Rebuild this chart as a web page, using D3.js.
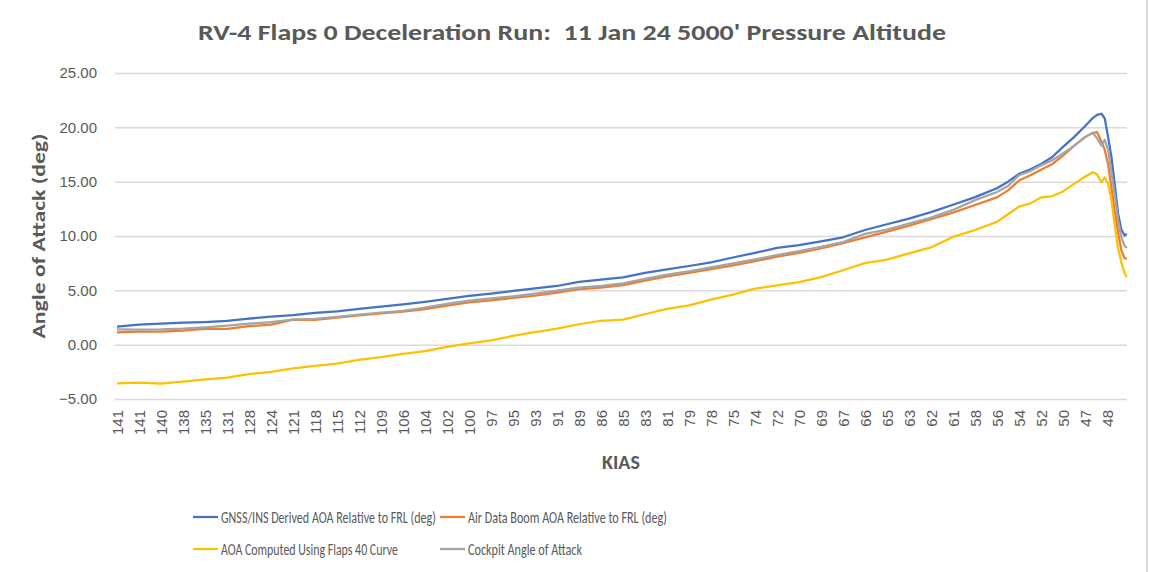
<!DOCTYPE html>
<html>
<head>
<meta charset="utf-8">
<script src="https://cdn.jsdelivr.net/npm/d3@7"></script>
<style>
  body { margin: 0; background: #fff; }
  svg { display: block; font-family: Carlito, Calibri, Lato, "Liberation Sans", sans-serif; }
</style>
</head>
<body>
<svg id="chart" width="1150" height="572"></svg>
<script>
// RV-4 deceleration run — AOA vs. KIAS, four series.

// Category labels on the x axis (one every label step)
const KIAS = ["141", "141", "140", "138", "135", "131", "128", "124", "121", "118", "115", "112",
  "109", "106", "104", "102", "100", "97", "95", "93", "91", "89", "86", "85", "83", "81", "79",
  "78", "75", "74", "72", "70", "69", "67", "66", "65", "63", "62", "61", "58", "56", "54", "52",
  "50", "47", "48"];

// Sample positions, in label steps (label i sits at position i); finer near the stall
const POS = [0, 1, 2, 3, 4, 5, 6, 7, 8, 9, 10, 11, 12, 13, 14, 15, 16, 17, 18, 19, 20,
  21, 22, 23, 24, 25, 26, 27, 28, 29, 30, 31, 32, 33, 34, 35, 36, 37, 38, 39, 40,
  40.5, 41, 41.5, 42, 42.5, 43, 43.5, 44, 44.35, 44.55, 44.75, 44.9, 45.05, 45.2, 45.35,
  45.5, 45.65, 45.8, 45.9];

const GNSS = [1.67, 1.85, 1.94, 2.02, 2.08, 2.18, 2.40, 2.57, 2.72, 2.92, 3.07, 3.30, 3.50, 3.71,
  3.94, 4.21, 4.48, 4.70, 4.94, 5.18, 5.40, 5.78, 5.98, 6.20, 6.60, 6.92, 7.24, 7.58, 8.02, 8.45,
  8.90, 9.16, 9.50, 9.88, 10.55, 11.08, 11.60, 12.20, 12.88, 13.58, 14.40,
  15.0, 15.72, 16.11, 16.63, 17.25, 18.2, 19.1, 20.1, 20.85, 21.15, 21.25, 20.8, 19.1, 17.3,
  14.8, 12.1, 10.6, 10.05, 10.2];

const BOOM = [1.13, 1.20, 1.21, 1.30, 1.46, 1.45, 1.70, 1.85, 2.30, 2.28, 2.48, 2.70, 2.88, 3.05,
  3.27, 3.60, 3.90, 4.08, 4.30, 4.52, 4.78, 5.10, 5.25, 5.48, 5.90, 6.28, 6.60, 6.95, 7.30, 7.68,
  8.10, 8.45, 8.85, 9.35, 9.87, 10.40, 10.95, 11.55, 12.15, 12.85, 13.55,
  14.2, 15.1, 15.56, 16.1, 16.6, 17.4, 18.3, 19.1, 19.5, 19.55, 18.7, 17.9, 16.6, 14.5,
  12.3, 10.4, 8.7, 7.95, 7.9];

const FLAPS40 = [-3.57, -3.50, -3.58, -3.40, -3.20, -3.04, -2.72, -2.50, -2.18, -1.95, -1.74,
  -1.40, -1.15, -0.85, -0.60, -0.20, 0.12, 0.40, 0.80, 1.15, 1.47, 1.88, 2.20, 2.30, 2.80, 3.30,
  3.62, 4.15, 4.60, 5.15, 5.45, 5.75, 6.22, 6.85, 7.50, 7.83, 8.40, 8.95, 9.92, 10.55, 11.30,
  12.0, 12.7, 12.98, 13.55, 13.65, 14.1, 14.8, 15.45, 15.87, 15.65, 14.95, 15.4, 14.8, 13.3,
  11.0, 8.9, 7.6, 6.6, 6.2];

const COCKPIT = [1.41, 1.39, 1.40, 1.47, 1.60, 1.75, 1.93, 2.08, 2.30, 2.38, 2.55, 2.76, 2.96,
  3.12, 3.42, 3.75, 4.05, 4.25, 4.45, 4.70, 4.97, 5.25, 5.40, 5.65, 6.05, 6.45, 6.75, 7.12, 7.48,
  7.84, 8.25, 8.60, 9.00, 9.45, 10.2, 10.6, 11.15, 11.7, 12.4, 13.3, 14.05,
  14.6, 15.6, 15.96, 16.5, 16.95, 17.6, 18.3, 19.1, 19.49, 19.0, 18.3, 18.85, 17.9, 15.9,
  13.8, 11.5, 9.9, 9.1, 8.9];

const Y_TICKS = [-5, 0, 5, 10, 15, 20, 25];

// Excel draws in series order, so gray ends up on top
const SERIES = [
  { name: "GNSS/INS Derived AOA Relative to FRL (deg)", values: GNSS, color: "#4472c4" },
  { name: "Air Data Boom AOA Relative to FRL (deg)", values: BOOM, color: "#ed7d31" },
  { name: "AOA Computed Using Flaps 40 Curve", values: FLAPS40, color: "#ffc000" },
  { name: "Cockpit Angle of Attack", values: COCKPIT, color: "#a5a5a5" },
];

const svg = d3.select("#chart");
const TEXT = "#595959";
const plot = { left: 115, right: 1127, top: 73, bottom: 399 };

const x = d3.scaleLinear().domain([0, KIAS.length - 1]).range([117, 117 + 22 * (KIAS.length - 1)]);
const y = d3.scaleLinear().domain([-5, 25]).range([plot.bottom, plot.top]);

// Squeeze a text horizontally to a target width (the original uses narrow Calibri)
function fitWidth(sel, w) {
  sel.each(function () {
    const len = this.getComputedTextLength();
    const target = typeof w === "function" ? w.apply(this, arguments) : w;
    if (len > 0) d3.select(this).attr("transform", `scale(${target / len},1)`);
  });
}

// thin frame line on the right edge, as in the exported picture
svg.append("line").attr("x1", 1147).attr("x2", 1147).attr("y1", 0).attr("y2", 572)
  .attr("stroke", "#d9d9d9").attr("stroke-width", 2);

// title (keeps the double space after the colon)
svg.append("text").attr("x", 572).attr("y", 40).attr("text-anchor", "middle")
  .attr("textLength", 748).attr("lengthAdjust", "spacingAndGlyphs")
  .style("white-space", "pre")
  .style("font-size", "22px").style("font-weight", "bold").style("fill", TEXT)
  .text("RV-4 Flaps 0 Deceleration Run:  11 Jan 24 5000' Pressure Altitude");

// horizontal gridlines + y labels
const yAxis = svg.append("g").attr("transform", `translate(${plot.left},0)`)
  .call(d3.axisLeft(y).tickValues(Y_TICKS).tickSize(-(plot.right - plot.left))
    .tickPadding(18).tickFormat(d3.format(".2f")));
yAxis.select(".domain").remove();
yAxis.selectAll("line").attr("stroke", "#d9d9d9").attr("stroke-width", 1.5);
yAxis.selectAll("text").style("font-size", "15px").style("fill", TEXT)
  .style("font-family", "inherit");

svg.append("text").attr("transform", "rotate(-90)")
  .attr("x", -236).attr("y", 45).attr("text-anchor", "middle")
  .attr("textLength", 205).attr("lengthAdjust", "spacingAndGlyphs")
  .style("font-size", "19px").style("font-weight", "bold").style("fill", TEXT)
  .text("Angle of Attack (deg)");

// category labels, rotated
const xAxis = svg.append("g").attr("transform", `translate(0,${plot.bottom})`)
  .call(d3.axisBottom(x).tickValues(d3.range(KIAS.length)).tickSize(0)
    .tickFormat((i) => KIAS[i]));
xAxis.select(".domain").remove();
xAxis.selectAll("text")
  .attr("transform", "rotate(-90)")
  .attr("x", -11).attr("y", 0).attr("dy", "0.35em")
  .attr("text-anchor", "end")
  .style("font-size", "15px").style("fill", TEXT).style("font-family", "inherit");

svg.append("text").attr("x", (plot.left + plot.right) / 2).attr("y", 469)
  .attr("text-anchor", "middle")
  .style("font-size", "20px").style("font-weight", "bold").style("fill", TEXT)
  .text("KIAS");

// series lines
const line = d3.line().x((d, i) => x(POS[i])).y((d) => y(d));
svg.append("g").selectAll("path").data(SERIES).join("path")
  .attr("fill", "none")
  .attr("stroke", (s) => s.color)
  .attr("stroke-width", 2.25)
  .attr("stroke-linejoin", "round")
  .attr("d", (s) => line(s.values));

// legend: two rows of two
const LEGEND_POS = [
  { lx: 193, ty: 517, w: 215 },
  { lx: 440, ty: 517, w: 199 },
  { lx: 193, ty: 549, w: 177 },
  { lx: 440, ty: 549, w: 114 },
];
const legend = svg.append("g").selectAll("g").data(SERIES).join("g")
  .attr("transform", (s, i) => `translate(${LEGEND_POS[i].lx},${LEGEND_POS[i].ty})`);
legend.append("line").attr("x1", 0).attr("x2", 25).attr("y1", 0).attr("y2", 0)
  .attr("stroke", (s) => s.color).attr("stroke-width", 2.25);
legend.append("g").attr("transform", "translate(28,0)")
  .append("text").attr("x", 0).attr("y", 0).attr("dy", "0.35em")
  .style("font-size", "16px").style("fill", TEXT)
  .text((s) => s.name)
  .call(fitWidth, (s) => LEGEND_POS[SERIES.indexOf(s)].w);
</script>
</body>
</html>
